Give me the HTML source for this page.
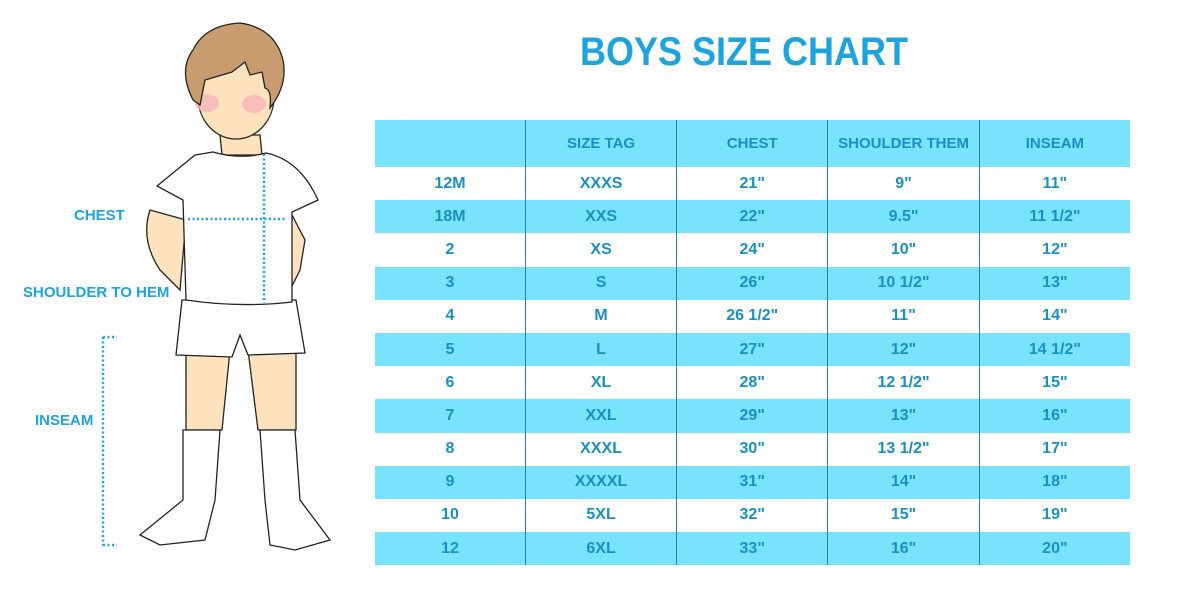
<!DOCTYPE html>
<html><head><style>
body{margin:0;width:1200px;height:600px;background:#fff;font-family:"Liberation Sans",sans-serif;position:relative;overflow:hidden}
.t{position:absolute;color:#1fa3dc;font-weight:bold}
table{position:absolute;left:375px;top:120px;border-collapse:collapse;width:755px}
td{width:151px;text-align:center;color:#1b8fc0;font-weight:bold;font-size:16px;padding:0;height:33.2px;border-left:1.5px solid #2a7ea8}
td:first-child{border-left:none}
tr.h td{height:47px;font-size:15px;font-weight:bold;color:#1b8fc0}
tr.b{background:#79e2fc}
</style></head><body>
<div class="t" style="left:580px;top:30px;font-size:40px;transform:scaleX(0.9);transform-origin:left top">BOYS SIZE CHART</div>
<div class="t" style="left:74px;top:207px;font-size:15px">CHEST</div>
<div class="t" style="left:23px;top:284px;font-size:15px">SHOULDER TO HEM</div>
<div class="t" style="left:35px;top:412px;font-size:15px">INSEAM</div>
<svg width="400" height="600" style="position:absolute;left:0;top:0" stroke="#222" stroke-width="1.3">
<path d="M150 210 Q140 240 160 270 L180 290 L186 220 Z" fill="#fde3bd"/>
<path d="M292 215 L305 240 L300 270 L290 290 Z" fill="#fde3bd"/>
<path d="M186 350 L186 430 L222 430 L230 350 Z M248 350 L258 430 L296 430 L296 350 Z" fill="#fde3bd"/>
<path d="M183 430 L183 500 L140 535 L160 545 L205 540 L215 500 L220 430 Z" fill="#fff"/>
<path d="M260 430 L265 500 L270 545 L295 550 L330 540 L300 500 L295 430 Z" fill="#fff"/>
<path d="M182 300 L176 355 L232 357 L240 335 L248 355 L305 353 L296 300 Z" fill="#fff"/>
<path d="M220 135 L222 155 L262 155 L260 135 Z" fill="#fde3bd"/>
<path d="M213 152 L195 155 L157 186 L183 200 L186 300 Q240 308 292 302 L292 212 L318 200 Q300 160 266 153 Q240 160 213 152 Z" fill="#fff"/>
<ellipse cx="236" cy="97" rx="38" ry="42" fill="#fde3bd"/>
<ellipse cx="207" cy="103" rx="12" ry="9" fill="#f5b4b8" stroke="none" opacity=".8"/>
<ellipse cx="254" cy="104" rx="12" ry="9" fill="#f5b4b8" stroke="none" opacity=".8"/>
<path d="M193 100 Q178 70 193 50 Q205 25 240 23 Q275 28 283 60 Q288 85 270 108 Q272 90 265 88 L262 72 L250 75 L245 62 L232 72 L205 80 L200 105 Z" fill="#c99c6f"/>
<g stroke="#1fa3dc" stroke-width="2.5" stroke-dasharray="2 2.5" fill="none">
<line x1="188" y1="219" x2="285" y2="219"/><line x1="264" y1="154" x2="264" y2="303"/>
<line x1="103" y1="337" x2="103" y2="545"/><line x1="103" y1="337" x2="117" y2="337"/><line x1="103" y1="545" x2="117" y2="545"/>
</g></svg>
<table>
<tr class="h b"><td></td><td>SIZE TAG</td><td>CHEST</td><td>SHOULDER THEM</td><td>INSEAM</td></tr>
<tr><td>12M</td><td>XXXS</td><td>21"</td><td>9"</td><td>11"</td></tr>
<tr class="b"><td>18M</td><td>XXS</td><td>22"</td><td>9.5"</td><td>11 1/2"</td></tr>
<tr><td>2</td><td>XS</td><td>24"</td><td>10"</td><td>12"</td></tr>
<tr class="b"><td>3</td><td>S</td><td>26"</td><td>10 1/2"</td><td>13"</td></tr>
<tr><td>4</td><td>M</td><td>26 1/2"</td><td>11"</td><td>14"</td></tr>
<tr class="b"><td>5</td><td>L</td><td>27"</td><td>12"</td><td>14 1/2"</td></tr>
<tr><td>6</td><td>XL</td><td>28"</td><td>12 1/2"</td><td>15"</td></tr>
<tr class="b"><td>7</td><td>XXL</td><td>29"</td><td>13"</td><td>16"</td></tr>
<tr><td>8</td><td>XXXL</td><td>30"</td><td>13 1/2"</td><td>17"</td></tr>
<tr class="b"><td>9</td><td>XXXXL</td><td>31"</td><td>14"</td><td>18"</td></tr>
<tr><td>10</td><td>5XL</td><td>32"</td><td>15"</td><td>19"</td></tr>
<tr class="b"><td>12</td><td>6XL</td><td>33"</td><td>16"</td><td>20"</td></tr>
</table>
</body></html>
